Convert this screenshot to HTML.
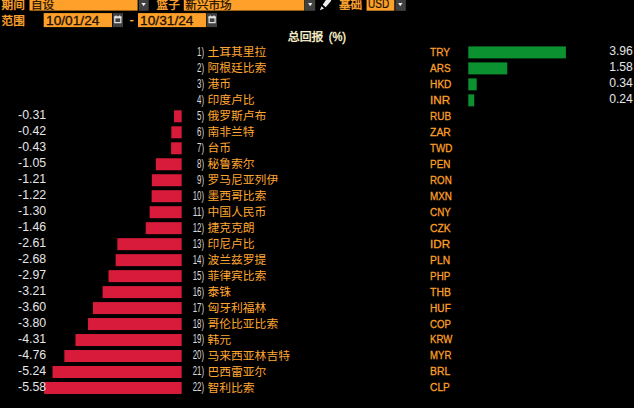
<!DOCTYPE html>
<html lang="zh"><head><meta charset="utf-8"><title>FX total return</title>
<style>
html,body{margin:0;padding:0;background:#000}
body{width:634px;height:408px;overflow:hidden;position:relative;font-family:"Liberation Sans",sans-serif}
svg{position:absolute;left:0;top:0;display:block}
svg text{font-family:"Liberation Sans","Noto Sans CJK SC",sans-serif}
svg text.hl{font-size:11.6px;fill:#ffa631;stroke:#ffa631;stroke-width:0.4}
svg text.hd{font-size:11.6px;fill:#201000;stroke:#201000;stroke-width:0.25}
svg text.ix{font-size:12.2px;fill:#dcdcdc}
svg text.nm{font-size:11.8px;fill:#ffa631}
svg text.cd{font-size:11.7px;fill:#fea029;stroke:#fea029;stroke-width:0.3}
svg text.vl{font-size:12.7px;fill:#e6e6e6}
#tx span{position:absolute;white-space:nowrap;overflow:hidden;line-height:1;color:transparent}
</style></head><body>
<svg width="634" height="408" viewBox="0 0 634 408">
<text class="hl" x="1.60" y="8.81">期间</text>
<rect x="29.50" y="0.00" width="108.10" height="10.60" fill="#fea029"/>
<text class="hd" x="31.00" y="8.81">自设</text>
<rect x="138.80" y="0.00" width="9.90" height="10.80" fill="#414141"/>
<path d="M141.40 2.9h4.4L143.60 6.3z" fill="#f0f0f0"/>
<text class="hl" x="156.60" y="8.81">篮子</text>
<rect x="183.80" y="0.00" width="120.50" height="10.60" fill="#fea029"/>
<text class="hd" x="185.30" y="8.81">新兴市场</text>
<rect x="305.00" y="0.00" width="10.20" height="10.80" fill="#414141"/>
<path d="M308.00 2.9h4.4L310.20 6.3z" fill="#f0f0f0"/>
<path d="M326.3 -0.5L331.2 -0.5L331 0.9L325.7 7.3L322.7 4.8Z" fill="#efefef"/>
<path d="M321.5 6.3L324 8.5L319.9 10.2Z" fill="#efefef"/>
<text class="hl" x="339.00" y="8.81">基础</text>
<rect x="366.60" y="0.00" width="27.70" height="10.70" fill="#fea029"/>
<text x="368.10" y="8.20" font-size="12.2" fill="#201000" stroke="#201000" stroke-width="0.2" textLength="21.1" lengthAdjust="spacingAndGlyphs">USD</text>
<rect x="395.40" y="0.00" width="10.40" height="10.80" fill="#414141"/>
<path d="M398.10 2.9h4.4L400.30 6.3z" fill="#f0f0f0"/>
<text class="hl" x="1.60" y="25.16">范围</text>
<rect x="43.70" y="13.10" width="68.30" height="14.00" fill="#fea029"/>
<text x="46.00" y="25.10" font-size="12.6" fill="#201000" stroke="#201000" stroke-width="0.3" textLength="53.4" lengthAdjust="spacingAndGlyphs">10/01/24</text>
<rect x="112.70" y="13.10" width="10.30" height="14.00" fill="#414141"/>
<g transform="translate(112.70 13.10)" stroke="#e4e4e4" fill="none"><path d="M2.1 4.0h6v5.6h-6z" stroke-width="1.2"/><path d="M1.5 4.3h7.2" stroke-width="1.9"/><path d="M3.3 2.4v1.5M6.9 2.4v1.5" stroke-width="1.2"/></g>
<text x="129.40" y="24.40" font-size="12.9" fill="#ffb24a" stroke="#ffb24a" stroke-width="0.2">-</text>
<rect x="138.00" y="13.10" width="68.20" height="14.00" fill="#fea029"/>
<text x="140.10" y="25.10" font-size="12.6" fill="#201000" stroke="#201000" stroke-width="0.3" textLength="53.4" lengthAdjust="spacingAndGlyphs">10/31/24</text>
<rect x="207.00" y="13.10" width="10.00" height="14.00" fill="#414141"/>
<g transform="translate(207.00 13.10)" stroke="#e4e4e4" fill="none"><path d="M2.1 4.0h6v5.6h-6z" stroke-width="1.2"/><path d="M1.5 4.3h7.2" stroke-width="1.9"/><path d="M3.3 2.4v1.5M6.9 2.4v1.5" stroke-width="1.2"/></g>
<text x="287.80" y="40.86" font-size="11.9" fill="#fbf3cf" stroke="#fbf3cf" stroke-width="0.4">总回报</text>
<text x="328.70" y="40.70" font-size="12.0" fill="#fbf3cf" stroke="#fbf3cf" stroke-width="0.4" textLength="17.4" lengthAdjust="spacingAndGlyphs">(%)</text>
<text class="ix" x="197.02" y="55.85" textLength="7.0" lengthAdjust="spacingAndGlyphs">1)</text>
<text class="nm" x="207.40" y="56.12">土耳其里拉</text>
<text class="cd" x="430.10" y="55.85" textLength="20.0" lengthAdjust="spacingAndGlyphs">TRY</text>
<rect x="468.30" y="46.40" width="97.61" height="12.00" fill="#0c9130"/>
<text class="vl" x="609.15" y="55.25" textLength="23.7" lengthAdjust="spacingAndGlyphs">3.96</text>
<text class="ix" x="197.02" y="71.83" textLength="7.0" lengthAdjust="spacingAndGlyphs">2)</text>
<text class="nm" x="207.40" y="72.10">阿根廷比索</text>
<text class="cd" x="430.10" y="71.83" textLength="20.5" lengthAdjust="spacingAndGlyphs">ARS</text>
<rect x="468.30" y="62.38" width="38.95" height="12.00" fill="#0c9130"/>
<text class="vl" x="609.15" y="71.23" textLength="23.7" lengthAdjust="spacingAndGlyphs">1.58</text>
<text class="ix" x="197.02" y="87.81" textLength="7.0" lengthAdjust="spacingAndGlyphs">3)</text>
<text class="nm" x="207.40" y="88.08">港币</text>
<text class="cd" x="430.10" y="87.81" textLength="21.3" lengthAdjust="spacingAndGlyphs">HKD</text>
<rect x="468.30" y="78.36" width="8.38" height="12.00" fill="#0c9130"/>
<text class="vl" x="609.15" y="87.21" textLength="23.7" lengthAdjust="spacingAndGlyphs">0.34</text>
<text class="ix" x="197.02" y="103.79" textLength="7.0" lengthAdjust="spacingAndGlyphs">4)</text>
<text class="nm" x="207.40" y="104.06">印度卢比</text>
<text class="cd" x="430.10" y="103.79" textLength="20.0" lengthAdjust="spacingAndGlyphs">INR</text>
<rect x="468.30" y="94.34" width="5.92" height="12.00" fill="#0c9130"/>
<text class="vl" x="609.15" y="103.19" textLength="23.7" lengthAdjust="spacingAndGlyphs">0.24</text>
<text class="ix" x="197.02" y="119.77" textLength="7.0" lengthAdjust="spacingAndGlyphs">5)</text>
<text class="nm" x="207.40" y="120.04">俄罗斯卢布</text>
<text class="cd" x="430.10" y="119.77" textLength="21.0" lengthAdjust="spacingAndGlyphs">RUB</text>
<rect x="174.06" y="110.32" width="7.64" height="12.00" fill="#d81b3b"/>
<text class="vl" x="18.12" y="119.17" textLength="28.1" lengthAdjust="spacingAndGlyphs">-0.31</text>
<text class="ix" x="197.02" y="135.75" textLength="7.0" lengthAdjust="spacingAndGlyphs">6)</text>
<text class="nm" x="207.40" y="136.02">南非兰特</text>
<text class="cd" x="430.10" y="135.75" textLength="20.7" lengthAdjust="spacingAndGlyphs">ZAR</text>
<rect x="171.35" y="126.30" width="10.35" height="12.00" fill="#d81b3b"/>
<text class="vl" x="18.12" y="135.15" textLength="28.1" lengthAdjust="spacingAndGlyphs">-0.42</text>
<text class="ix" x="197.02" y="151.73" textLength="7.0" lengthAdjust="spacingAndGlyphs">7)</text>
<text class="nm" x="207.40" y="152.00">台币</text>
<text class="cd" x="430.10" y="151.73" textLength="22.3" lengthAdjust="spacingAndGlyphs">TWD</text>
<rect x="171.10" y="142.28" width="10.60" height="12.00" fill="#d81b3b"/>
<text class="vl" x="18.12" y="151.13" textLength="28.1" lengthAdjust="spacingAndGlyphs">-0.43</text>
<text class="ix" x="197.02" y="167.71" textLength="7.0" lengthAdjust="spacingAndGlyphs">8)</text>
<text class="nm" x="207.40" y="167.98">秘鲁索尔</text>
<text class="cd" x="430.10" y="167.71" textLength="20.3" lengthAdjust="spacingAndGlyphs">PEN</text>
<rect x="155.82" y="158.26" width="25.88" height="12.00" fill="#d81b3b"/>
<text class="vl" x="18.12" y="167.11" textLength="28.1" lengthAdjust="spacingAndGlyphs">-1.05</text>
<text class="ix" x="197.02" y="183.69" textLength="7.0" lengthAdjust="spacingAndGlyphs">9)</text>
<text class="nm" x="207.40" y="183.96">罗马尼亚列伊</text>
<text class="cd" x="430.10" y="183.69" textLength="21.6" lengthAdjust="spacingAndGlyphs">RON</text>
<rect x="151.87" y="174.24" width="29.83" height="12.00" fill="#d81b3b"/>
<text class="vl" x="18.12" y="183.09" textLength="28.1" lengthAdjust="spacingAndGlyphs">-1.21</text>
<text class="ix" x="192.69" y="199.67" textLength="11.3" lengthAdjust="spacingAndGlyphs">10)</text>
<text class="nm" x="207.40" y="199.94">墨西哥比索</text>
<text class="cd" x="430.10" y="199.67" textLength="21.9" lengthAdjust="spacingAndGlyphs">MXN</text>
<rect x="151.63" y="190.22" width="30.07" height="12.00" fill="#d81b3b"/>
<text class="vl" x="18.12" y="199.07" textLength="28.1" lengthAdjust="spacingAndGlyphs">-1.22</text>
<text class="ix" x="192.69" y="215.65" textLength="11.3" lengthAdjust="spacingAndGlyphs">11)</text>
<text class="nm" x="207.40" y="215.92">中国人民币</text>
<text class="cd" x="430.10" y="215.65" textLength="20.7" lengthAdjust="spacingAndGlyphs">CNY</text>
<rect x="149.65" y="206.20" width="32.05" height="12.00" fill="#d81b3b"/>
<text class="vl" x="18.12" y="215.05" textLength="28.1" lengthAdjust="spacingAndGlyphs">-1.30</text>
<text class="ix" x="192.69" y="231.63" textLength="11.3" lengthAdjust="spacingAndGlyphs">12)</text>
<text class="nm" x="207.40" y="231.90">捷克克朗</text>
<text class="cd" x="430.10" y="231.63" textLength="20.6" lengthAdjust="spacingAndGlyphs">CZK</text>
<rect x="145.71" y="222.18" width="35.99" height="12.00" fill="#d81b3b"/>
<text class="vl" x="18.12" y="231.03" textLength="28.1" lengthAdjust="spacingAndGlyphs">-1.46</text>
<text class="ix" x="192.69" y="247.61" textLength="11.3" lengthAdjust="spacingAndGlyphs">13)</text>
<text class="nm" x="207.40" y="247.88">印尼卢比</text>
<text class="cd" x="430.10" y="247.61" textLength="20.1" lengthAdjust="spacingAndGlyphs">IDR</text>
<rect x="117.36" y="238.16" width="64.34" height="12.00" fill="#d81b3b"/>
<text class="vl" x="18.12" y="247.01" textLength="28.1" lengthAdjust="spacingAndGlyphs">-2.61</text>
<text class="ix" x="192.69" y="263.59" textLength="11.3" lengthAdjust="spacingAndGlyphs">14)</text>
<text class="nm" x="207.40" y="263.86">波兰兹罗提</text>
<text class="cd" x="430.10" y="263.59" textLength="20.0" lengthAdjust="spacingAndGlyphs">PLN</text>
<rect x="115.64" y="254.14" width="66.06" height="12.00" fill="#d81b3b"/>
<text class="vl" x="18.12" y="262.99" textLength="28.1" lengthAdjust="spacingAndGlyphs">-2.68</text>
<text class="ix" x="192.69" y="279.57" textLength="11.3" lengthAdjust="spacingAndGlyphs">15)</text>
<text class="nm" x="207.40" y="279.84">菲律宾比索</text>
<text class="cd" x="430.10" y="279.57" textLength="20.2" lengthAdjust="spacingAndGlyphs">PHP</text>
<rect x="108.49" y="270.12" width="73.21" height="12.00" fill="#d81b3b"/>
<text class="vl" x="18.12" y="278.97" textLength="28.1" lengthAdjust="spacingAndGlyphs">-2.97</text>
<text class="ix" x="192.69" y="295.55" textLength="11.3" lengthAdjust="spacingAndGlyphs">16)</text>
<text class="nm" x="207.40" y="295.82">泰铢</text>
<text class="cd" x="430.10" y="295.55" textLength="20.7" lengthAdjust="spacingAndGlyphs">THB</text>
<rect x="102.57" y="286.10" width="79.13" height="12.00" fill="#d81b3b"/>
<text class="vl" x="18.12" y="294.95" textLength="28.1" lengthAdjust="spacingAndGlyphs">-3.21</text>
<text class="ix" x="192.69" y="311.53" textLength="11.3" lengthAdjust="spacingAndGlyphs">17)</text>
<text class="nm" x="207.40" y="311.80">匈牙利福林</text>
<text class="cd" x="430.10" y="311.53" textLength="20.7" lengthAdjust="spacingAndGlyphs">HUF</text>
<rect x="92.96" y="302.08" width="88.74" height="12.00" fill="#d81b3b"/>
<text class="vl" x="18.12" y="310.93" textLength="28.1" lengthAdjust="spacingAndGlyphs">-3.60</text>
<text class="ix" x="192.69" y="327.51" textLength="11.3" lengthAdjust="spacingAndGlyphs">18)</text>
<text class="nm" x="207.40" y="327.78">哥伦比亚比索</text>
<text class="cd" x="430.10" y="327.51" textLength="20.9" lengthAdjust="spacingAndGlyphs">COP</text>
<rect x="88.03" y="318.06" width="93.67" height="12.00" fill="#d81b3b"/>
<text class="vl" x="18.12" y="326.91" textLength="28.1" lengthAdjust="spacingAndGlyphs">-3.80</text>
<text class="ix" x="192.69" y="343.49" textLength="11.3" lengthAdjust="spacingAndGlyphs">19)</text>
<text class="nm" x="207.40" y="343.76">韩元</text>
<text class="cd" x="430.10" y="343.49" textLength="22.2" lengthAdjust="spacingAndGlyphs">KRW</text>
<rect x="75.46" y="334.04" width="106.24" height="12.00" fill="#d81b3b"/>
<text class="vl" x="18.12" y="342.89" textLength="28.1" lengthAdjust="spacingAndGlyphs">-4.31</text>
<text class="ix" x="192.69" y="359.47" textLength="11.3" lengthAdjust="spacingAndGlyphs">20)</text>
<text class="nm" x="207.40" y="359.74">马来西亚林吉特</text>
<text class="cd" x="430.10" y="359.47" textLength="21.3" lengthAdjust="spacingAndGlyphs">MYR</text>
<rect x="64.37" y="350.02" width="117.33" height="12.00" fill="#d81b3b"/>
<text class="vl" x="18.12" y="358.87" textLength="28.1" lengthAdjust="spacingAndGlyphs">-4.76</text>
<text class="ix" x="192.69" y="375.45" textLength="11.3" lengthAdjust="spacingAndGlyphs">21)</text>
<text class="nm" x="207.40" y="375.72">巴西雷亚尔</text>
<text class="cd" x="430.10" y="375.45" textLength="20.1" lengthAdjust="spacingAndGlyphs">BRL</text>
<rect x="52.53" y="366.00" width="129.17" height="12.00" fill="#d81b3b"/>
<text class="vl" x="18.12" y="374.85" textLength="28.1" lengthAdjust="spacingAndGlyphs">-5.24</text>
<text class="ix" x="192.69" y="391.43" textLength="11.3" lengthAdjust="spacingAndGlyphs">22)</text>
<text class="nm" x="207.40" y="391.70">智利比索</text>
<text class="cd" x="430.10" y="391.43" textLength="19.7" lengthAdjust="spacingAndGlyphs">CLP</text>
<rect x="44.15" y="381.98" width="137.55" height="12.00" fill="#d81b3b"/>
<text class="vl" x="18.12" y="390.83" textLength="28.1" lengthAdjust="spacingAndGlyphs">-5.58</text>
</svg>
<div id="tx"><span style="left:1.6px;top:-1.6px;font-size:11.6px;width:23.2px">期间</span><span style="left:31.0px;top:-1.6px;font-size:11.6px;width:23.2px">自设</span><span style="left:156.6px;top:-1.6px;font-size:11.6px;width:23.2px">篮子</span><span style="left:185.3px;top:-1.6px;font-size:11.6px;width:46.4px">新兴市场</span><span style="left:339.0px;top:-1.6px;font-size:11.6px;width:23.2px">基础</span><span style="left:368.1px;top:-2.8px;font-size:12.2px;width:21.1px">USD</span><span style="left:1.6px;top:14.7px;font-size:11.6px;width:23.2px">范围</span><span style="left:46.0px;top:13.8px;font-size:12.6px;width:53.4px">10/01/24</span><span style="left:129.4px;top:12.8px;font-size:12.9px;width:4.2px">-</span><span style="left:140.1px;top:13.8px;font-size:12.6px;width:53.4px">10/31/24</span><span style="left:287.8px;top:30.1px;font-size:11.9px;width:35.7px">总回报</span><span style="left:328.7px;top:29.9px;font-size:12.0px;width:17.4px">(%)</span><span style="left:197.0px;top:44.9px;font-size:12.2px;width:7.0px">1)</span><span style="left:207.4px;top:45.5px;font-size:11.8px;width:59.0px">土耳其里拉</span><span style="left:430.1px;top:45.3px;font-size:11.7px;width:20.0px">TRY</span><span style="left:609.1px;top:43.8px;font-size:12.7px;width:23.7px">3.96</span><span style="left:197.0px;top:60.8px;font-size:12.2px;width:7.0px">2)</span><span style="left:207.4px;top:61.5px;font-size:11.8px;width:59.0px">阿根廷比索</span><span style="left:430.1px;top:61.3px;font-size:11.7px;width:20.5px">ARS</span><span style="left:609.1px;top:59.8px;font-size:12.7px;width:23.7px">1.58</span><span style="left:197.0px;top:76.8px;font-size:12.2px;width:7.0px">3)</span><span style="left:207.4px;top:77.5px;font-size:11.8px;width:23.6px">港币</span><span style="left:430.1px;top:77.3px;font-size:11.7px;width:21.3px">HKD</span><span style="left:609.1px;top:75.8px;font-size:12.7px;width:23.7px">0.34</span><span style="left:197.0px;top:92.8px;font-size:12.2px;width:7.0px">4)</span><span style="left:207.4px;top:93.4px;font-size:11.8px;width:47.2px">印度卢比</span><span style="left:430.1px;top:93.3px;font-size:11.7px;width:20.0px">INR</span><span style="left:609.1px;top:91.8px;font-size:12.7px;width:23.7px">0.24</span><span style="left:197.0px;top:108.8px;font-size:12.2px;width:7.0px">5)</span><span style="left:207.4px;top:109.4px;font-size:11.8px;width:59.0px">俄罗斯卢布</span><span style="left:430.1px;top:109.2px;font-size:11.7px;width:21.0px">RUB</span><span style="left:18.1px;top:107.7px;font-size:12.7px;width:28.1px">-0.31</span><span style="left:197.0px;top:124.8px;font-size:12.2px;width:7.0px">6)</span><span style="left:207.4px;top:125.4px;font-size:11.8px;width:47.2px">南非兰特</span><span style="left:430.1px;top:125.2px;font-size:11.7px;width:20.7px">ZAR</span><span style="left:18.1px;top:123.7px;font-size:12.7px;width:28.1px">-0.42</span><span style="left:197.0px;top:140.8px;font-size:12.2px;width:7.0px">7)</span><span style="left:207.4px;top:141.4px;font-size:11.8px;width:23.6px">台币</span><span style="left:430.1px;top:141.2px;font-size:11.7px;width:22.3px">TWD</span><span style="left:18.1px;top:139.7px;font-size:12.7px;width:28.1px">-0.43</span><span style="left:197.0px;top:156.7px;font-size:12.2px;width:7.0px">8)</span><span style="left:207.4px;top:157.4px;font-size:11.8px;width:47.2px">秘鲁索尔</span><span style="left:430.1px;top:157.2px;font-size:11.7px;width:20.3px">PEN</span><span style="left:18.1px;top:155.7px;font-size:12.7px;width:28.1px">-1.05</span><span style="left:197.0px;top:172.7px;font-size:12.2px;width:7.0px">9)</span><span style="left:207.4px;top:173.3px;font-size:11.8px;width:70.8px">罗马尼亚列伊</span><span style="left:430.1px;top:173.2px;font-size:11.7px;width:21.6px">RON</span><span style="left:18.1px;top:171.7px;font-size:12.7px;width:28.1px">-1.21</span><span style="left:192.7px;top:188.7px;font-size:12.2px;width:11.3px">10)</span><span style="left:207.4px;top:189.3px;font-size:11.8px;width:59.0px">墨西哥比索</span><span style="left:430.1px;top:189.1px;font-size:11.7px;width:21.9px">MXN</span><span style="left:18.1px;top:187.6px;font-size:12.7px;width:28.1px">-1.22</span><span style="left:192.7px;top:204.7px;font-size:12.2px;width:11.3px">11)</span><span style="left:207.4px;top:205.3px;font-size:11.8px;width:59.0px">中国人民币</span><span style="left:430.1px;top:205.1px;font-size:11.7px;width:20.7px">CNY</span><span style="left:18.1px;top:203.6px;font-size:12.7px;width:28.1px">-1.30</span><span style="left:192.7px;top:220.7px;font-size:12.2px;width:11.3px">12)</span><span style="left:207.4px;top:221.3px;font-size:11.8px;width:47.2px">捷克克朗</span><span style="left:430.1px;top:221.1px;font-size:11.7px;width:20.6px">CZK</span><span style="left:18.1px;top:219.6px;font-size:12.7px;width:28.1px">-1.46</span><span style="left:192.7px;top:236.6px;font-size:12.2px;width:11.3px">13)</span><span style="left:207.4px;top:237.3px;font-size:11.8px;width:47.2px">印尼卢比</span><span style="left:430.1px;top:237.1px;font-size:11.7px;width:20.1px">IDR</span><span style="left:18.1px;top:235.6px;font-size:12.7px;width:28.1px">-2.61</span><span style="left:192.7px;top:252.6px;font-size:12.2px;width:11.3px">14)</span><span style="left:207.4px;top:253.2px;font-size:11.8px;width:59.0px">波兰兹罗提</span><span style="left:430.1px;top:253.1px;font-size:11.7px;width:20.0px">PLN</span><span style="left:18.1px;top:251.6px;font-size:12.7px;width:28.1px">-2.68</span><span style="left:192.7px;top:268.6px;font-size:12.2px;width:11.3px">15)</span><span style="left:207.4px;top:269.2px;font-size:11.8px;width:59.0px">菲律宾比索</span><span style="left:430.1px;top:269.0px;font-size:11.7px;width:20.2px">PHP</span><span style="left:18.1px;top:267.5px;font-size:12.7px;width:28.1px">-2.97</span><span style="left:192.7px;top:284.6px;font-size:12.2px;width:11.3px">16)</span><span style="left:207.4px;top:285.2px;font-size:11.8px;width:23.6px">泰铢</span><span style="left:430.1px;top:285.0px;font-size:11.7px;width:20.7px">THB</span><span style="left:18.1px;top:283.5px;font-size:12.7px;width:28.1px">-3.21</span><span style="left:192.7px;top:300.5px;font-size:12.2px;width:11.3px">17)</span><span style="left:207.4px;top:301.2px;font-size:11.8px;width:59.0px">匈牙利福林</span><span style="left:430.1px;top:301.0px;font-size:11.7px;width:20.7px">HUF</span><span style="left:18.1px;top:299.5px;font-size:12.7px;width:28.1px">-3.60</span><span style="left:192.7px;top:316.5px;font-size:12.2px;width:11.3px">18)</span><span style="left:207.4px;top:317.2px;font-size:11.8px;width:70.8px">哥伦比亚比索</span><span style="left:430.1px;top:317.0px;font-size:11.7px;width:20.9px">COP</span><span style="left:18.1px;top:315.5px;font-size:12.7px;width:28.1px">-3.80</span><span style="left:192.7px;top:332.5px;font-size:12.2px;width:11.3px">19)</span><span style="left:207.4px;top:333.1px;font-size:11.8px;width:23.6px">韩元</span><span style="left:430.1px;top:333.0px;font-size:11.7px;width:22.2px">KRW</span><span style="left:18.1px;top:331.5px;font-size:12.7px;width:28.1px">-4.31</span><span style="left:192.7px;top:348.5px;font-size:12.2px;width:11.3px">20)</span><span style="left:207.4px;top:349.1px;font-size:11.8px;width:82.6px">马来西亚林吉特</span><span style="left:430.1px;top:348.9px;font-size:11.7px;width:21.3px">MYR</span><span style="left:18.1px;top:347.4px;font-size:12.7px;width:28.1px">-4.76</span><span style="left:192.7px;top:364.5px;font-size:12.2px;width:11.3px">21)</span><span style="left:207.4px;top:365.1px;font-size:11.8px;width:59.0px">巴西雷亚尔</span><span style="left:430.1px;top:364.9px;font-size:11.7px;width:20.1px">BRL</span><span style="left:18.1px;top:363.4px;font-size:12.7px;width:28.1px">-5.24</span><span style="left:192.7px;top:380.4px;font-size:12.2px;width:11.3px">22)</span><span style="left:207.4px;top:381.1px;font-size:11.8px;width:47.2px">智利比索</span><span style="left:430.1px;top:380.9px;font-size:11.7px;width:19.7px">CLP</span><span style="left:18.1px;top:379.4px;font-size:12.7px;width:28.1px">-5.58</span></div>
</body></html>
